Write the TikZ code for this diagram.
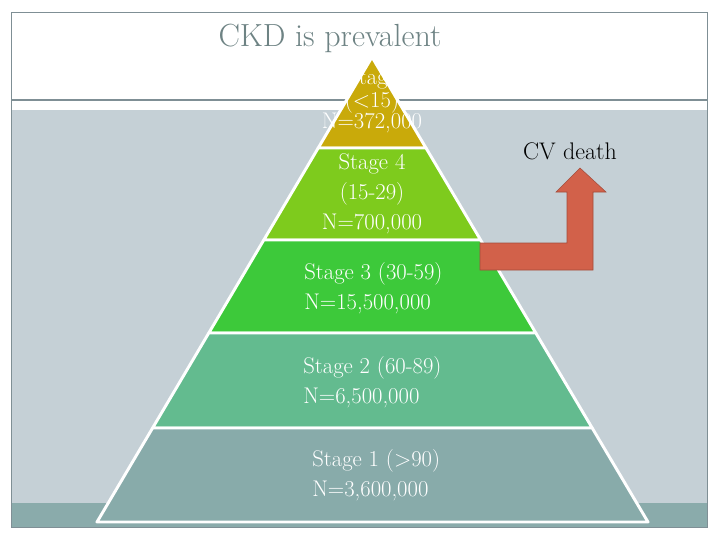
\documentclass[tikz,border=0pt]{standalone}
\usepackage{tikz}
\usetikzlibrary{calc}
\definecolor{slidegray}{HTML}{C5D0D6}
\definecolor{bandteal}{HTML}{8AABAB}
\definecolor{rulegray}{HTML}{7F8F95}
\definecolor{titlegray}{HTML}{6E8384}
\definecolor{stfive}{HTML}{C9AA0A}
\definecolor{stfour}{HTML}{7ECB1D}
\definecolor{stthree}{HTML}{3DC93A}
\definecolor{sttwo}{HTML}{63BB8F}
\definecolor{stone}{HTML}{88ABAA}
\definecolor{cvred}{HTML}{D2614A}
\definecolor{cvedge}{HTML}{A24B3B}

\begin{document}
\begin{tikzpicture}[x=.75pt,y=-.75pt,lyr/.style={draw=white,line width=2.2pt,line join=round},lbl/.style={white,inner sep=0pt,font=\fontsize{17}{22.5}\selectfont}]
\useasboundingbox(0,0)rectangle(720,540);
% slide background
\fill[white](11,12)rectangle(707,110);\fill[slidegray](11,110)rectangle(707,503);\fill[bandteal](11,503)rectangle(707,527);
\draw[rulegray](11,12)rectangle(707,527);\draw[rulegray,line width=1.2pt](11,100)--(707,100);
\node[titlegray,font=\fontsize{24}{28}\selectfont](title)at(330,38){CKD is prevalent};
% pyramid
\coordinate(a)at(372,57);\coordinate(bl)at(97,522);\coordinate(br)at(648,522);
\foreach\u/\v/\c in{0/.1957/stfive,.1957/.3935/stfour,.3935/.5935/stthree,.5935/.7978/sttwo,.7978/1/stone}\filldraw[lyr,fill=\c]($(a)!\u!(bl)$)--($(a)!\v!(bl)$)--($(a)!\v!(br)$)--($(a)!\u!(br)$)--cycle;
\node[lbl,align=center,font=\fontsize{17}{16}\selectfont](s5)at(372,101){Stage\\(<15)\\N=372,000};
\node[lbl,align=center](s4)at(372,194){Stage 4\\(15-29)\\N=700,000};
\node[lbl,align=left,anchor=west](s3)at(304,288){Stage 3 (30-59)\\N=15,500,000};
\node[lbl,align=left,anchor=west](s2)at(303,382){Stage 2 (60-89)\\N=6,500,000};
\node[lbl,align=left,anchor=west](s1)at(312,475){Stage 1 (>90)\\N=3,600,000};
% CV death arrow
\filldraw[fill=cvred,draw=cvedge](480,243)--(567,243)--(567,192)--(556,192)--(580,168)--(606,192)--(593,192)--(593,270)--(480,270)--cycle;
\node[font=\fontsize{18}{21}\selectfont](cv)at(570,151){CV death};
\end{tikzpicture}
\end{document}
